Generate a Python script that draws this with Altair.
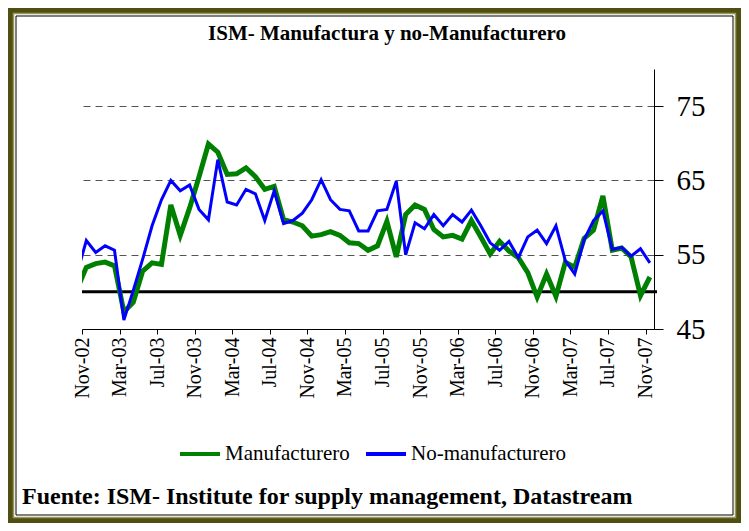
import json
import altair as alt
import pandas as pd

# ---------------- data ----------------
tick_labels = ["Nov-02", "Mar-03", "Jul-03", "Nov-03", "Mar-04", "Jul-04", "Nov-04", "Mar-05",
               "Jul-05", "Nov-05", "Mar-06", "Jul-06", "Nov-06", "Mar-07", "Jul-07", "Nov-07"]

series_names = ["Manufacturero", "No-manufacturero"]

# monthly values Oct-02 .. Nov-07
manufacturero = [50.3, 53.3, 53.8, 54.0, 53.5, 47.3, 48.6, 52.8, 53.9, 53.7, 61.7,
                 57.6, 61.3, 65.5, 69.9, 68.8, 65.8, 65.9, 66.7, 65.5, 63.8,
                 64.2, 59.7, 59.4, 58.9, 57.5, 57.7, 58.1, 57.6, 56.6, 56.5,
                 55.6, 56.2, 59.5, 54.7, 60.4, 61.7, 61.1, 58.4, 57.4, 57.6,
                 57.1, 59.6, 57.4, 55.1, 56.8, 55.5, 54.6, 52.6, 49.3, 52.4,
                 49.4, 54.0, 53.3, 57.2, 58.3, 62.9, 55.6, 55.9, 54.7, 49.5, 52.0]

no_manufacturero = [52.4, 56.9, 55.3, 56.2, 55.6, 46.2, 50.2, 54.4, 58.9, 62.4, 65.0,
                    63.6, 64.4, 61.1, 59.7, 67.8, 62.1, 61.7, 63.8, 63.2, 59.6,
                    63.6, 59.2, 59.6, 60.6, 62.4, 65.1, 62.4, 61.1, 60.9, 58.2,
                    58.2, 60.9, 61.1, 64.9, 55.0, 59.3, 58.5, 60.4, 58.9, 60.4,
                    59.4, 61.0, 58.9, 56.6, 55.6, 56.8, 54.6, 57.4, 58.3, 56.5,
                    58.9, 54.2, 52.4, 57.0, 59.6, 60.9, 55.7, 56.0, 54.8, 55.8, 53.9]

y_ticks = [45, 55, 65, 75]
colors = ["#008000", "#0000ff"]

title_text = "ISM- Manufactura y no-Manufacturero"
footer_text = "Fuente: ISM- Institute for supply management, Datastream"

# ---------------- table ----------------
mid_month = 0.46
rows = []
for name, vals in zip(series_names, [manufacturero, no_manufacturero]):
    for i, v in enumerate(vals):
        rows.append({"t": i - 1 + mid_month, "value": v, "serie": name})
df = pd.DataFrame(rows)

FONT = "Liberation Serif"

x_scale = alt.Scale(domain=[0, 60.9], nice=False, zero=False)
y_scale = alt.Scale(domain=[45, 80], nice=False, zero=False)
color_scale = alt.Scale(domain=series_names, range=colors)

x_axis = alt.Axis(
    values=list(range(0, 61, 4)),
    labelExpr=json.dumps(tick_labels) + "[round(datum.value / 4)]",
    labelAngle=270, labelFont=FONT, labelFontSize=20, labelColor="black",
    labelPadding=3, tickSize=5, tickColor="black", domainColor="black",
    grid=False, title=None,
)
y_axis = alt.Axis(
    orient="right", values=y_ticks, labelFont=FONT, labelFontSize=29,
    labelColor="black", labelPadding=13, tickSize=9, tickColor="black",
    domainColor="black", grid=True, gridDash=[7, 5], gridColor="#555555",
    gridWidth=1, title=None,
)
legend = alt.Legend(
    title=None, orient="none", legendX=96, legendY=363, direction="horizontal",
    symbolType="stroke", symbolSize=1600, symbolStrokeWidth=4,
    labelFont=FONT, labelFontSize=21, labelColor="black", labelOffset=3,
    columnPadding=8,
)

base = alt.Chart(df)

def line_layer(name, width):
    return base.transform_filter(alt.datum.serie == name).mark_line(
        clip=True, strokeWidth=width
    ).encode(
        x=alt.X("t:Q", scale=x_scale, axis=x_axis),
        y=alt.Y("value:Q", scale=y_scale, axis=y_axis),
        color=alt.Color("serie:N", scale=color_scale, legend=legend),
    )

green = line_layer("Manufacturero", 5)
blue = line_layer("No-manufacturero", 3)

rule50 = alt.Chart(alt.Data(values=[{"v": 50}])).mark_rule(
    color="black", strokeWidth=3
).encode(y=alt.Y("v:Q", scale=y_scale), x=alt.value(0), x2=alt.value(575))

one = alt.Data(values=[{"a": 1}])

def frame(x, x2, y, y2, color, w):
    return alt.Chart(one).mark_rect(
        fill="white", fillOpacity=0, stroke=color, strokeWidth=w
    ).encode(x=alt.value(x), x2=alt.value(x2), y=alt.value(y), y2=alt.value(y2))

outer = frame(-71.5, 656.5, -58.5, 451.5, "#4f4f14", 5)
khaki = frame(-68.5, 653.5, -55.5, 448.5, "#9a9a5c", 1.5)
inner = frame(-66, 651, -53, 446, "black", 1)

title = alt.Chart(one).mark_text(
    text=title_text, font=FONT, fontSize=21, fontWeight="bold",
    align="center", baseline="middle", color="black"
).encode(x=alt.value(305), y=alt.value(-35))

footer = alt.Chart(one).mark_text(
    text=footer_text, font=FONT, fontSize=24, fontWeight="bold",
    align="left", baseline="middle", color="black"
).encode(x=alt.value(-60), y=alt.value(428))

chart = alt.layer(outer, khaki, inner, rule50, green, blue, title, footer).properties(
    width=572, height=260, autosize="none",
    padding={"left": 74, "top": 61, "right": 87, "bottom": 194},
    background="white",
).configure_view(strokeWidth=0)

chart.save("out.html", embed_options={"renderer": "svg", "actions": False})
